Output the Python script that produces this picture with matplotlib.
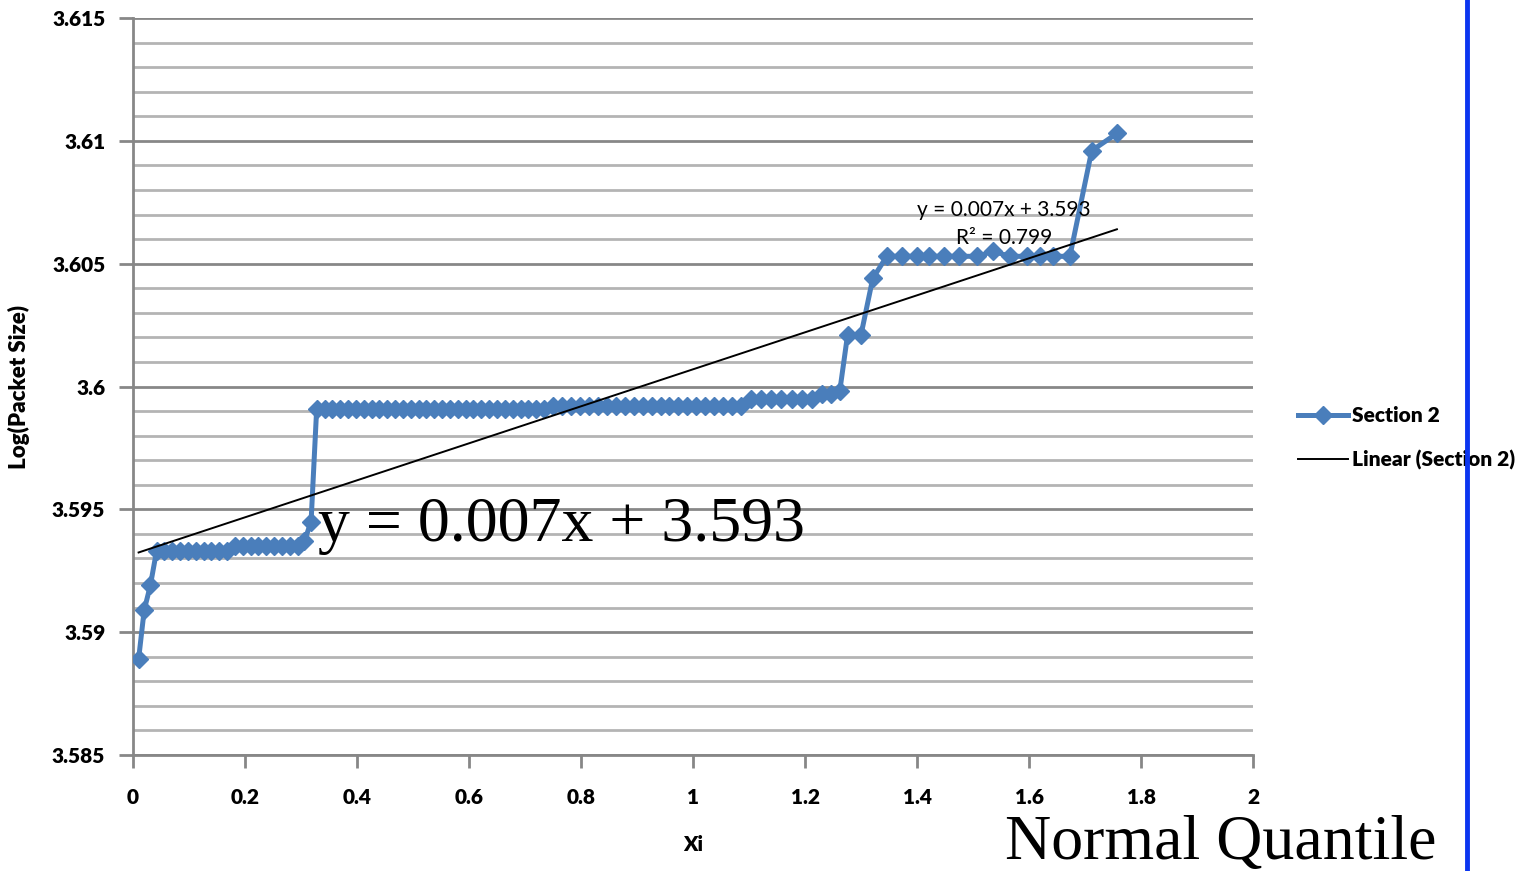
import numpy as np
import matplotlib.pyplot as plt
from matplotlib.lines import Line2D
from matplotlib.ticker import MultipleLocator

# Section 2: normal quantile (Xi) vs log of packet size
xi = [0.010, 0.020, 0.031,
      0.042, 0.056, 0.070, 0.084, 0.098, 0.112, 0.126, 0.140, 0.154, 0.168,
      0.182, 0.196, 0.210, 0.224, 0.238, 0.252, 0.266, 0.280, 0.294,
      0.306, 0.318, 0.328,
      0.342, 0.356, 0.370, 0.384, 0.398, 0.412, 0.426, 0.440, 0.454, 0.468,
      0.482, 0.496, 0.510, 0.524, 0.538, 0.552, 0.566, 0.580, 0.594, 0.608,
      0.622, 0.636, 0.650, 0.664, 0.678, 0.692, 0.706, 0.720, 0.734,
      0.750, 0.766, 0.782, 0.798, 0.814, 0.830, 0.846, 0.862, 0.878, 0.894,
      0.910, 0.926, 0.942, 0.958, 0.974, 0.990, 1.006, 1.022, 1.038, 1.054,
      1.070, 1.086,
      1.104, 1.122, 1.140, 1.158, 1.176, 1.194, 1.212,
      1.230, 1.246, 1.262,
      1.276, 1.300, 1.321, 1.346,
      1.373, 1.400, 1.421, 1.448, 1.475, 1.507, 1.536, 1.566, 1.596, 1.620,
      1.643, 1.673,
      1.712, 1.757]
log_size = [3.5889, 3.5909, 3.5919,
            3.5933, 3.5933, 3.5933, 3.5933, 3.5933, 3.5933, 3.5933, 3.5933, 3.5933, 3.5933,
            3.5935, 3.5935, 3.5935, 3.5935, 3.5935, 3.5935, 3.5935, 3.5935, 3.5935,
            3.5937, 3.5945, 3.5991,
            3.5991, 3.5991, 3.5991, 3.5991, 3.5991, 3.5991, 3.5991, 3.5991, 3.5991, 3.5991,
            3.5991, 3.5991, 3.5991, 3.5991, 3.5991, 3.5991, 3.5991, 3.5991, 3.5991, 3.5991,
            3.5991, 3.5991, 3.5991, 3.5991, 3.5991, 3.5991, 3.5991, 3.5991, 3.5991,
            3.5992, 3.5992, 3.5992, 3.5992, 3.5992, 3.5992, 3.5992, 3.5992, 3.5992, 3.5992,
            3.5992, 3.5992, 3.5992, 3.5992, 3.5992, 3.5992, 3.5992, 3.5992, 3.5992, 3.5992,
            3.5992, 3.5992,
            3.5995, 3.5995, 3.5995, 3.5995, 3.5995, 3.5995, 3.5995,
            3.5997, 3.5997, 3.5998,
            3.6021, 3.6021, 3.6044, 3.6053,
            3.6053, 3.6053, 3.6053, 3.6053, 3.6053, 3.6053, 3.6055, 3.6053, 3.6053, 3.6053,
            3.6053, 3.6053,
            3.6096, 3.6103]

x_ticks = [0, 0.2, 0.4, 0.6, 0.8, 1, 1.2, 1.4, 1.6, 1.8, 2]
x_labels = ["0", "0.2", "0.4", "0.6", "0.8", "1", "1.2", "1.4", "1.6", "1.8", "2"]
y_ticks = [3.585, 3.59, 3.595, 3.6, 3.605, 3.61, 3.615]
y_labels = ["3.585", "3.59", "3.595", "3.6", "3.605", "3.61", "3.615"]

blue = "#4a7ebb"
grid_dark = "#878787"
grid_light = "#b4b4b4"
lab_font = dict(family="Lato", weight="heavy", size=15)

W, H = 1537, 871
fig = plt.figure(figsize=(W / 100, H / 100), dpi=100)
ax = fig.add_axes([133 / W, 1 - 755 / H, 1120 / W, 737 / H])

x = np.array(xi)
y = np.array(log_size)
ax.plot(x, y, color=blue, lw=3.6, marker="D", ms=9, mec=blue, mfc=blue,
        zorder=3, label="Section 2")

# least-squares trendline over the series
slope, icpt = np.polyfit(x, y, 1)
xt = np.array([x.min(), x.max()])
ax.plot(xt, slope * xt + icpt, color="black", lw=1.4, zorder=4,
        label="Linear (Section 2)")

ax.set_xlim(0, 2)
ax.set_ylim(3.585, 3.615)
ax.set_xticks(x_ticks)
ax.set_xticklabels(x_labels, fontdict=lab_font)
ax.set_yticks(y_ticks)
ax.set_yticklabels(y_labels, fontdict=lab_font)
ax.yaxis.set_minor_locator(MultipleLocator(0.001))

ax.yaxis.grid(True, which="major", color=grid_dark, lw=2, zorder=0)
ax.yaxis.grid(True, which="minor", color=grid_light, lw=2, zorder=0)
ax.set_axisbelow(True)

for s in ["top", "right"]:
    ax.spines[s].set_visible(False)
for s in ["left", "bottom"]:
    ax.spines[s].set_color(grid_dark)
    ax.spines[s].set_linewidth(2)
ax.tick_params(axis="y", which="major", length=10, width=2, color=grid_dark, pad=10)
ax.tick_params(axis="y", which="minor", length=0)
ax.tick_params(axis="x", length=9, width=2, color=grid_dark, pad=15)

ax.set_xlabel("Xi", fontdict=lab_font, labelpad=20)
ax.set_ylabel("Log(Packet Size)", fontdict=dict(family="Lato", weight="heavy", size=16),
              labelpad=16)

# equation labels
ax.text(1.555, 3.6066, "y = 0.007x + 3.593\nR² = 0.799", ha="center", va="center",
        fontsize=15, family="Lato", linespacing=1.5, zorder=5)
fig.text(318 / W, 1 - 541 / H, "y = 0.007x + 3.593", family="Liberation Serif",
         fontsize=46, va="baseline", ha="left")
fig.text(1005 / W, 1 - 859 / H, "Normal Quantile", family="Liberation Serif",
         fontsize=46, va="baseline", ha="left")

fig.legend(loc="upper left", bbox_to_anchor=(1298 / W, 1 - 406 / H), frameon=False,
           prop=dict(family="Lato", weight="heavy", size=15), handlelength=2.4,
           handletextpad=0.2, labelspacing=1.2, borderpad=0, borderaxespad=0)

fig.add_artist(Line2D([1467 / W, 1467 / W], [0, 1], color="#0b35f0", lw=3.5,
                      transform=fig.transFigure, zorder=10))

fig.savefig("out.png", dpi=100)
